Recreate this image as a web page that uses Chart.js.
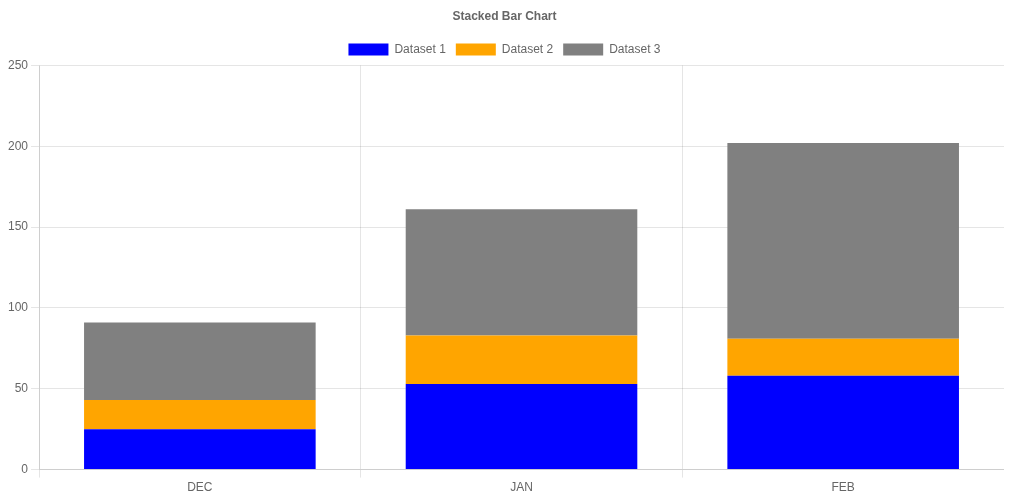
<!DOCTYPE html>
<html>
<head>
<meta charset="utf-8">
<title>Stacked Bar Chart</title>
<script src="https://cdn.jsdelivr.net/npm/chart.js@4"></script>
<style>
    html, body { margin: 0; padding: 0; background: #fff; }
    #wrap { width: 999px; height: 499px; position: relative; margin-left: 5px; margin-top: -1px; }
</style>
</head>
<body>
<div id="wrap"><canvas id="stackedChart"></canvas></div>
<script>
// chart data
var months = ['DEC', 'JAN', 'FEB'];
var dataset1 = [25, 53, 58];
var dataset2 = [18, 30, 23];
var dataset3 = [48, 78, 121];

var ctx = document.getElementById('stackedChart').getContext('2d');
var stackedChart = new Chart(ctx, {
    type: 'bar',
    data: {
        labels: months,
        datasets: [
            { label: 'Dataset 1', data: dataset1, backgroundColor: 'blue' },
            { label: 'Dataset 2', data: dataset2, backgroundColor: 'orange' },
            { label: 'Dataset 3', data: dataset3, backgroundColor: 'gray' }
        ]
    },
    options: {
        responsive: true,
        maintainAspectRatio: false,
        animation: false,
        plugins: {
            title: {
                display: true,
                text: 'Stacked Bar Chart'
            },
            legend: {
                display: true,
                position: 'top'
            }
        },
        scales: {
            x: { stacked: true },
            y: {
                stacked: true,
                beginAtZero: true,
                max: 250
            }
        }
    }
});
</script>
</body>
</html>
